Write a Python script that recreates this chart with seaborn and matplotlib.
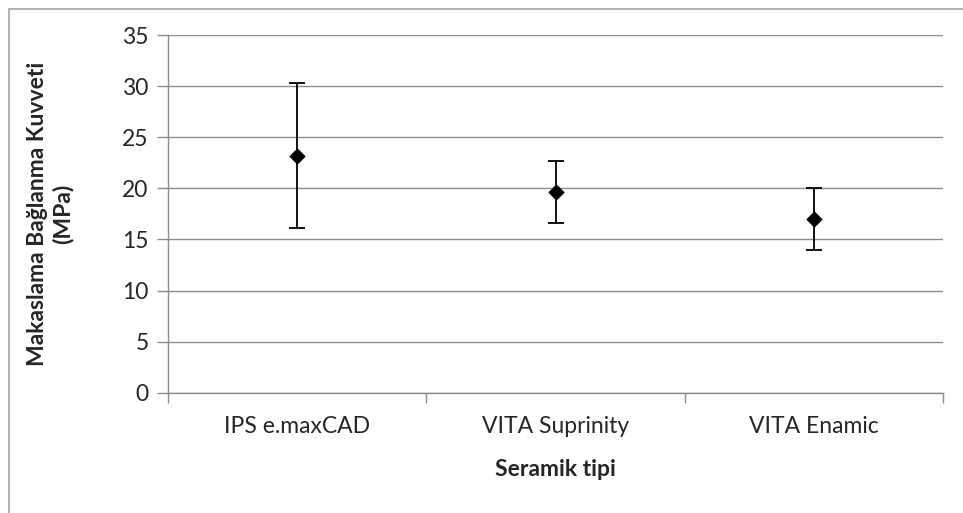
import matplotlib
matplotlib.use("Agg")
import matplotlib.pyplot as plt
import seaborn as sns
import pandas as pd
import numpy as np
from matplotlib.patches import Rectangle

categories = ["IPS e.maxCAD", "VITA Suprinity", "VITA Enamic"]
means = [23.2, 19.6, 17.0]
lower = [16.1, 16.6, 14.0]
upper = [30.3, 22.7, 20.0]
yticks = [0, 5, 10, 15, 20, 25, 30, 35]

sns.set_theme(style="white")
plt.rcParams['font.family'] = ['Lato', 'DejaVu Sans']

W, H = 963, 513
fig = plt.figure(figsize=(W / 100, H / 100), dpi=100)
ax = fig.add_axes([168 / W, 1 - 392.7 / H, (943 - 168) / W, (392.7 - 35) / H])

df = pd.DataFrame({"cat": categories, "mean": means})
yerr = np.array([np.array(means) - np.array(lower), np.array(upper) - np.array(means)])

ax.errorbar(df["cat"], df["mean"], yerr=yerr, fmt="none", ecolor="black",
            elinewidth=1.3, capsize=6, capthick=1.3, zorder=3)
sns.scatterplot(data=df, x="cat", y="mean", marker="D", s=60, color="black",
                edgecolor="black", ax=ax, zorder=4)

ax.set_xlim(-0.5, 2.5)
ax.set_ylim(0, 35)
ax.set_yticks(yticks)
ax.yaxis.grid(True, color="#8c8c8c", linewidth=1)
ax.set_axisbelow(True)
for s in ["top", "right"]:
    ax.spines[s].set_visible(False)
for s in ["left", "bottom"]:
    ax.spines[s].set_color("#8c8c8c")
    ax.spines[s].set_linewidth(1)

ax.tick_params(axis="y", which="major", length=8, width=1, color="#8c8c8c",
               direction="out", left=True, labelsize=16.5, pad=6)
ax.set_xticks([0, 1, 2])
ax.set_xticklabels(categories)
ax.set_xticks([-0.5, 0.5, 1.5, 2.5], minor=True)
ax.tick_params(axis="x", which="major", length=0, labelsize=16.5, pad=17)
ax.tick_params(axis="x", which="minor", length=7, width=1, color="#8c8c8c",
               direction="out", bottom=True)

ax.set_xlabel("Seramik tipi", fontsize=16.5, fontweight="bold")
ax.xaxis.set_label_coords(0.5, (392.7 - 459) / 357.7)
ax.set_ylabel("Makaslama Bağlanma Kuvveti\n(MPa)", fontsize=16.5, fontweight="bold",
              linespacing=1.2)
ax.yaxis.set_label_coords((73 - 168) / 775, 0.5)

fig.patches.append(Rectangle((9 / W, -0.1), 1.2, 1 - 9 / H + 0.1, transform=fig.transFigure,
                             fill=False, edgecolor="#a6a6a6", linewidth=1.2, zorder=0))

fig.savefig("out.png", dpi=100)
